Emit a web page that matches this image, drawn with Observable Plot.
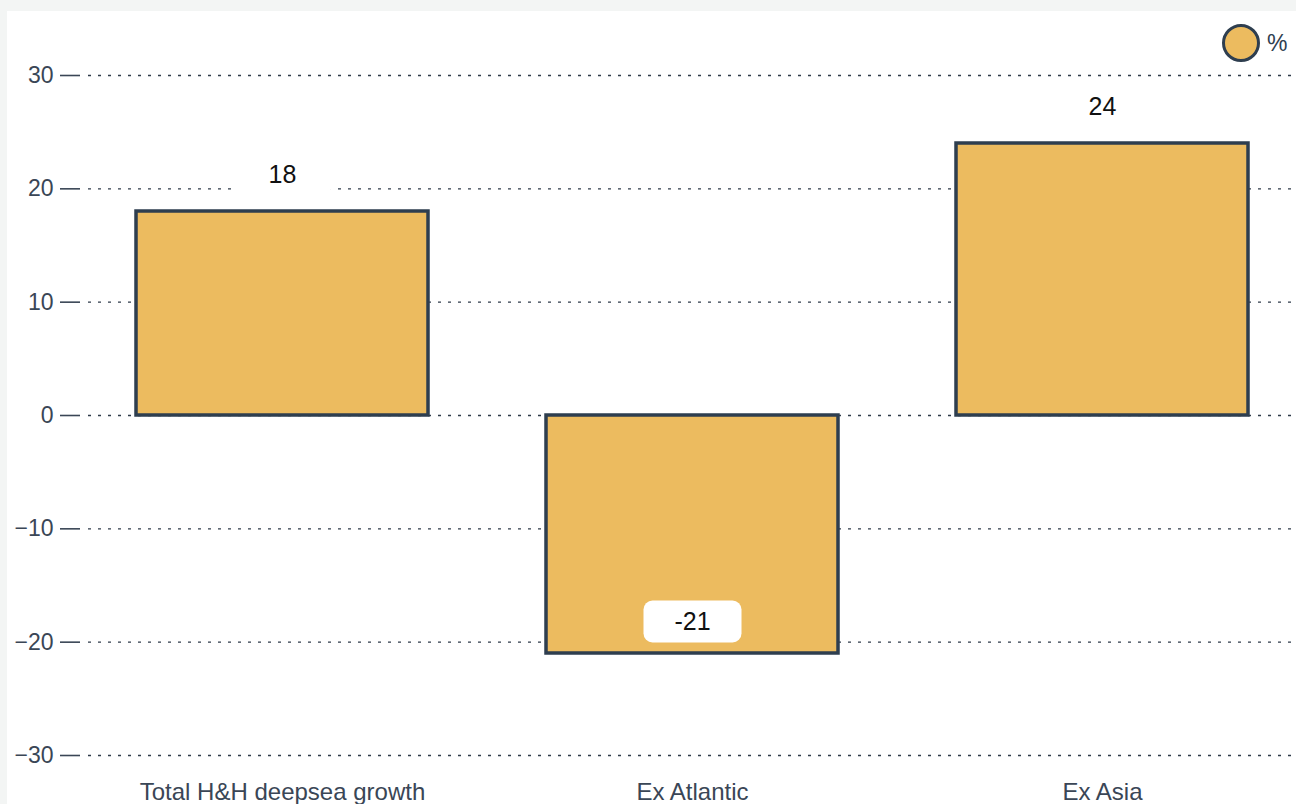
<!DOCTYPE html>
<html>
<head>
<meta charset="utf-8">
<script src="https://cdn.jsdelivr.net/npm/d3@7"></script>
<script src="https://cdn.jsdelivr.net/npm/@observablehq/plot@0.6"></script>
<style>
  html, body { margin: 0; padding: 0; background: #f3f5f4; width: 1296px; height: 804px; overflow: hidden; }
  #panel { position: absolute; left: 7px; top: 11px; width: 1289px; height: 793px; background: #ffffff; overflow: hidden; font-family: "Liberation Sans", Arial, Helvetica, sans-serif; }
  #legend { position: absolute; left: 1215px; top: 13px; display: flex; align-items: center; gap: 7px; color: #2e3e4f; font-size: 23px; }
  #legend .sw { width: 38px; height: 38px; box-sizing: border-box; border-radius: 50%; border: 3.5px solid #2e3e4f; background: #ecbb5f; }
</style>
</head>
<body>
<div id="panel"><div id="legend"><div class="sw"></div><span>%</span></div></div>
<script>
const categories = ["Total H&H deepsea growth", "Ex Atlantic", "Ex Asia"];
const values = [18, -21, 24];
const yTicks = [-30, -20, -10, 0, 10, 20, 30];
const seriesName = "%";

const data = categories.map((c, i) => ({category: c, value: values[i]}));

const boxSymbol = {
  draw(context) {
    const w = 98, h = 42, r = 9;
    const x0 = -w / 2, y0 = -h / 2, x1 = w / 2, y1 = h / 2;
    context.moveTo(x0 + r, y0);
    context.lineTo(x1 - r, y0);
    context.arcTo(x1, y0, x1, y0 + r, r);
    context.lineTo(x1, y1 - r);
    context.arcTo(x1, y1, x1 - r, y1, r);
    context.lineTo(x0 + r, y1);
    context.arcTo(x0, y1, x0, y1 - r, r);
    context.lineTo(x0, y0 + r);
    context.arcTo(x0, y0, x0 + r, y0, r);
    context.closePath();
  }
};

const pos = data.filter(d => d.value >= 0);
const neg = data.filter(d => d.value < 0);
const axisColor = "#3a4656";

const chart = Plot.plot({
  width: 1289,
  height: 793,
  marginLeft: 81,
  marginRight: 0,
  marginTop: 64,
  marginBottom: 49,
  style: {fontFamily: "'Liberation Sans', Arial, Helvetica, sans-serif", fontSize: "23px", background: "transparent", overflow: "visible"},
  x: {domain: categories, paddingInner: 0.287, paddingOuter: 0.116, label: null},
  y: {domain: [-30, 30], label: null, ticks: yTicks},
  marks: [
    Plot.gridY(yTicks, {stroke: "#2f3b4a", strokeOpacity: 1, strokeWidth: 1.3, strokeDasharray: "3,7"}),
    Plot.axisY(yTicks, {tickSize: 20, tickPadding: 7, dx: -8, color: axisColor, strokeWidth: 1.6, fontSize: 23, label: null}),
    Plot.axisX({tickSize: 0, tickPadding: 27, color: axisColor, fontSize: 24, label: null}),
    Plot.barY(data, {x: "category", y: "value", fill: "#ecbb5f", stroke: "#2e3e4f", strokeWidth: 3.5}),
    Plot.dot(pos, {x: "category", y: "value", dy: -37, symbol: boxSymbol, fill: "#ffffff", stroke: "none"}),
    Plot.dot(neg, {x: "category", y: "value", dy: -32, symbol: boxSymbol, fill: "#ffffff", stroke: "none"}),
    Plot.text(pos, {x: "category", y: "value", dy: -37, text: d => String(d.value), fill: "#111111", fontSize: 25}),
    Plot.text(neg, {x: "category", y: "value", dy: -32, text: d => String(d.value), fill: "#111111", fontSize: 25})
  ]
});
document.getElementById("panel").appendChild(chart);
</script>
</body>
</html>
